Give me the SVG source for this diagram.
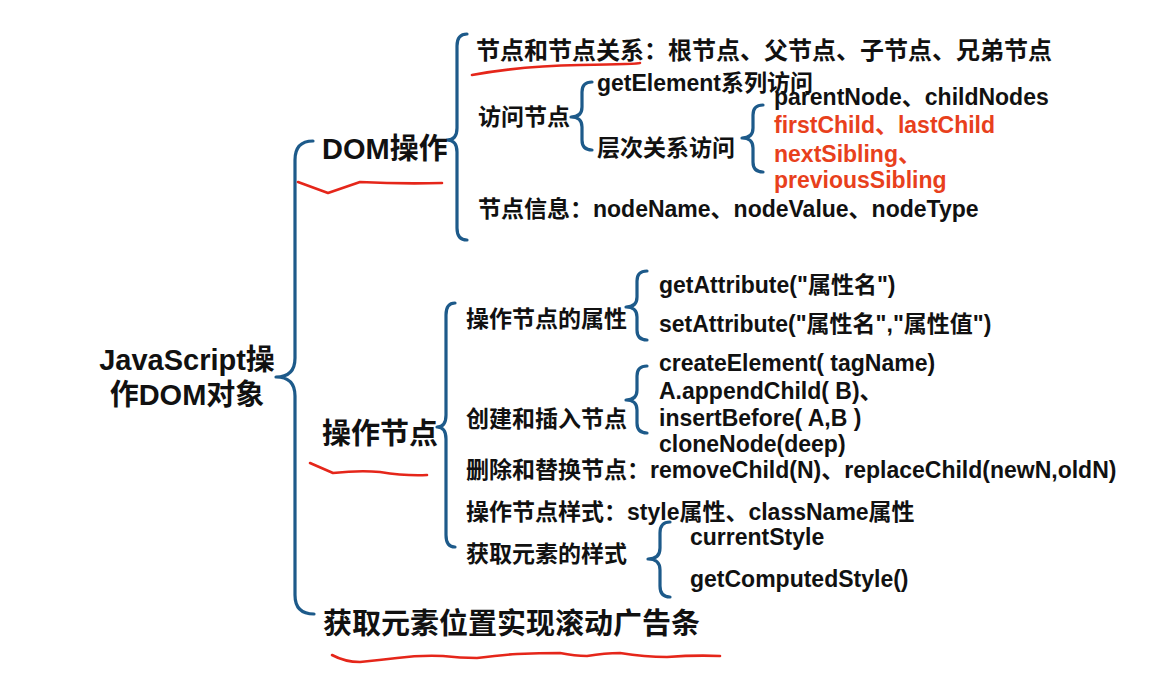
<svg xmlns="http://www.w3.org/2000/svg" width="1164" height="675" viewBox="0 0 1164 675">
<style>
  text { font-family: "Liberation Sans", "Noto Sans CJK SC", sans-serif; font-weight: bold; fill: #111; }
  .l1 { font-size: 29px; }
  .l2 { font-size: 23px; }
  .top { font-size: 24px; }
  .red { fill: #e8401c; }
  .brace { fill: none; stroke: #1d5a8a; stroke-width: 3.2; stroke-linecap: round; stroke-linejoin: round; }
  .mark { fill: none; stroke: #e5261a; stroke-width: 2.6; stroke-linecap: round; stroke-linejoin: round; }
</style>
<rect width="1164" height="675" fill="#ffffff"/>

<g id="connectors">
  <path class="brace" d="M313 141 Q295 141 295 160 L295 358 Q295 377 276 377 Q295 377 295 396 L295 595 Q295 614 314 614"/>
  <path class="brace" d="M467 34 Q457 34 457 46 L457 128 Q457 140 447 140 Q457 140 457 152 L457 228 Q457 240 467 240"/>
  <path class="brace" d="M592 82 Q582 82 582 92 L582 107 Q582 117 571 117 Q582 117 582 127 L582 140 Q582 150 592 150"/>
  <path class="brace" d="M763 105 Q753 105 753 115 L753 128 Q753 138 742 138 Q753 138 753 148 L753 162 Q753 172 763 172"/>
  <path class="brace" d="M455 303 Q446 303 446 315 L446 415 Q446 427 437 427 Q446 427 446 439 L446 535 Q446 547 455 547"/>
  <path class="brace" d="M647 271 Q637 271 637 281 L637 297 Q637 307 626 307 Q637 307 637 317 L637 330 Q637 340 647 340"/>
  <path class="brace" d="M647 366 Q637 366 637 376 L637 390 Q637 400 626 400 Q637 400 637 410 L637 423 Q637 433 647 433"/>
  <path class="brace" d="M670 522 Q660 522 660 533 L660 548 Q660 559 648 559 Q660 559 660 570 L660 586 Q660 597 670 597"/>
</g>

<g id="annotations">
  <path class="mark" d="M472 75 Q520 66 580 65 T640 63"/>
  <path class="mark" d="M298 182 L328 193 L360 182 Q400 184 442 183"/>
  <path class="mark" d="M310 463 L333 473 Q360 470 380 472 Q405 476 427 475"/>
  <path class="mark" d="M332 655 Q345 662 360 662 Q380 660 397 658 Q420 655 443 656 Q460 658 477 658 Q500 655 517 654 Q540 653 560 653 Q575 656 587 656 Q605 653 620 653 Q645 657 667 657 Q695 655 720 656"/>
</g>

<g id="root">
  <text class="l1" x="187" y="370" text-anchor="middle">JavaScript操</text>
  <text class="l1" x="187" y="405" text-anchor="middle">作DOM对象</text>
</g>

<g id="dom">
  <text class="l1" x="322" y="159">DOM操作</text>
</g>
<g id="relations">
  <text class="top" x="476" y="59">节点和节点关系：根节点、父节点、子节点、兄弟节点</text>
</g>
<g id="access">
  <text class="l2" x="478" y="125">访问节点</text>
</g>
<g id="getElement">
  <text class="l2" x="597" y="91">getElement系列访问</text>
</g>
<g id="hierarchy">
  <text class="l2" x="597" y="156">层次关系访问</text>
</g>
<g id="hierarchy-items">
  <text class="l2" x="774" y="105">parentNode、childNodes</text>
  <text class="l2 red" x="774" y="133">firstChild、lastChild</text>
  <text class="l2 red" x="774" y="162">nextSibling、</text>
  <text class="l2 red" x="774" y="188">previousSibling</text>
</g>
<g id="nodeinfo">
  <text class="l2" x="478" y="217">节点信息：nodeName、nodeValue、nodeType</text>
</g>

<g id="opnode">
  <text class="l1" x="322" y="444">操作节点</text>
</g>
<g id="attrs">
  <text class="l2" x="466" y="327">操作节点的属性</text>
</g>
<g id="attr-items">
  <text class="l2" x="659" y="293">getAttribute("属性名")</text>
  <text class="l2" x="659" y="332">setAttribute("属性名","属性值")</text>
</g>
<g id="create">
  <text class="l2" x="466" y="427">创建和插入节点</text>
</g>
<g id="create-items">
  <text class="l2" x="659" y="371">createElement( tagName)</text>
  <text class="l2" x="659" y="399">A.appendChild( B)、</text>
  <text class="l2" x="659" y="426">insertBefore( A,B )</text>
  <text class="l2" x="659" y="452">cloneNode(deep)</text>
</g>
<g id="remove">
  <text class="l2" x="466" y="478">删除和替换节点：removeChild(N)、replaceChild(newN,oldN)</text>
</g>
<g id="stylenode">
  <text class="l2" x="466" y="520">操作节点样式：style属性、className属性</text>
</g>
<g id="getstyle">
  <text class="l2" x="466" y="562">获取元素的样式</text>
</g>
<g id="style-items">
  <text class="l2" x="690" y="545">currentStyle</text>
  <text class="l2" x="690" y="587">getComputedStyle()</text>
</g>

<g id="scroll">
  <text class="l1" x="323" y="634">获取元素位置实现滚动广告条</text>
</g>
</svg>
